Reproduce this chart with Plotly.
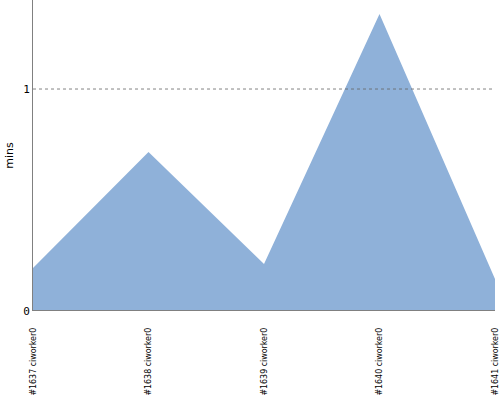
import plotly.graph_objects as go

builds = ["#1637 ciworker0", "#1638 ciworker0", "#1639 ciworker0", "#1640 ciworker0", "#1641 ciworker0"]
durations_min = [0.194, 0.716, 0.212, 1.338, 0.144]

fig = go.Figure()
fig.add_trace(go.Scatter(
    x=builds, y=durations_min, mode="lines", fill="tozeroy",
    line=dict(width=0, color="rgba(143,177,217,1)"),
    fillcolor="rgba(143,177,217,1)", hoverinfo="x+y",
))
fig.add_hline(y=1, line=dict(color="rgba(100,100,100,0.8)", width=1, dash="dot"), layer="above")

fig.update_layout(
    width=500, height=400,
    margin=dict(l=33, r=5, t=0, b=89, autoexpand=False),
    paper_bgcolor="white", plot_bgcolor="white",
    showlegend=False,
    xaxis=dict(
        type="category", range=[0, 4], tickangle=-90, automargin=False,
        showgrid=False, zeroline=False, showline=False,
        ticks="", tickfont=dict(family="DejaVu Sans Condensed, Liberation Sans", size=8.8, color="black"),
        ticklabelstandoff=14,
    ),
    yaxis=dict(
        range=[0, 1.401], tickvals=[0, 1], ticktext=["0", "1"], automargin=False,
        showgrid=False, zeroline=False, showline=True, linecolor="#808080", linewidth=1,
        ticks="", tickfont=dict(family="DejaVu Sans Mono", size=11, color="black"),
        title=dict(text="mins", font=dict(family="DejaVu Sans", size=11, color="black"), standoff=7),
    ),
)
fig.add_shape(type="line", xref="paper", yref="y", x0=0, x1=1, y0=0, y1=0,
              line=dict(color="#808080", width=2), layer="above")
fig.write_html("out.html", config={"displayModeBar": False},
               post_script="document.body.style.margin='0';")
